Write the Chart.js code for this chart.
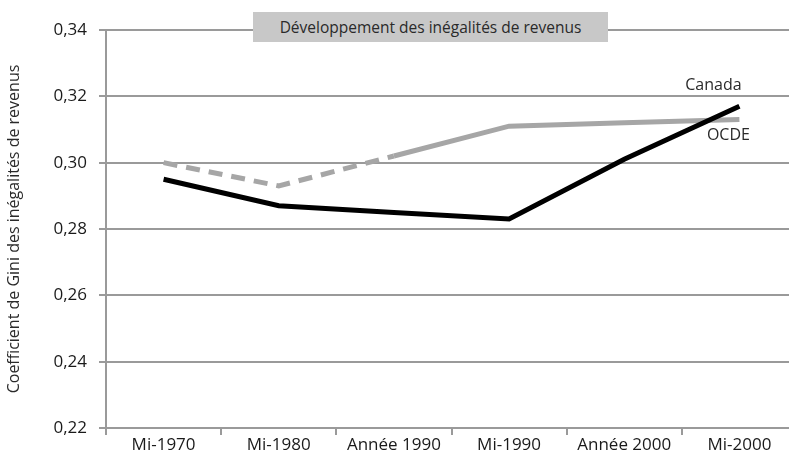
<!DOCTYPE html>
<html>
<head>
<meta charset="utf-8">
<script src="https://cdn.jsdelivr.net/npm/chart.js@4"></script>
<style>
  html, body { margin: 0; padding: 0; background: #fff; overflow: hidden; }
  #wrap { position: relative; width: 797px; height: 463px; }
  #titre {
    position: absolute; left: 253px; top: 12px; width: 355px; height: 30px;
    background: #c8c8c8; color: #2a2a2a; font: 15.5px "Open Sans", sans-serif;
    line-height: 30px; text-align: center;
  }
</style>
</head>
<body>
<div id="wrap">
  <canvas id="grafico" width="797" height="463"></canvas>
  <div id="titre">Développement des inégalités de revenus</div>
</div>
<script>
  // Données
  const periodes = ['Mi-1970', 'Mi-1980', 'Année 1990', 'Mi-1990', 'Année 2000', 'Mi-2000'];
  const canada = [0.295, 0.287, 0.285, 0.283, 0.301, 0.317];
  const ocde = [0.300, 0.293, 0.302, 0.311, 0.312, 0.313];
  const yMin = 0.22, yMax = 0.34, yPas = 0.02;

  const police = '"Open Sans", sans-serif';
  const gris = '#9a9a9a';

  // Étiquettes des séries à la fin des lignes
  const etiquettes = {
    id: 'etiquettes',
    afterDatasetsDraw(chart) {
      const ctx = chart.ctx;
      ctx.save();
      ctx.font = '16px ' + police;
      ctx.fillStyle = '#2a2a2a';
      ctx.textAlign = 'center';
      ctx.textBaseline = 'middle';
      const pc = chart.getDatasetMeta(0).data[periodes.length - 1];
      ctx.fillText('Canada', pc.x - 26, pc.y - 21);
      const po = chart.getDatasetMeta(1).data[periodes.length - 1];
      ctx.fillText('OCDE', po.x - 11, po.y + 16);
      ctx.restore();
    }
  };

  let ctx = document.getElementById('grafico').getContext('2d');
  let grafico = new Chart(ctx, {
      type: 'line',
      data: {
          labels: periodes,
          datasets: [{
              label: 'Canada',
              data: canada,
              borderColor: '#000',
              borderWidth: 5,
              pointRadius: 0,
              tension: 0
          }, {
              label: 'OCDE',
              data: ocde,
              borderColor: '#a6a6a6',
              borderWidth: 5,
              pointRadius: 0,
              tension: 0,
              segment: {
                  borderDash: c => c.p1DataIndex <= 2 ? [14, 9] : undefined
              }
          }]
      },
      options: {
          responsive: false,
          animation: false,
          layout: { padding: { top: 30, left: 0, right: 0, bottom: 0 } },
          plugins: { legend: { display: false }, tooltip: { enabled: false } },
          scales: {
              x: {
                  offset: true,
                  afterFit: s => { s.height = 35; },
                  grid: { offset: true, drawOnChartArea: false, color: gris, lineWidth: 2, tickLength: 7 },
                  border: { color: gris, width: 2 },
                  ticks: { color: '#1a1a1a', font: { family: police, size: 17 }, padding: 0, maxRotation: 0 }
              },
              y: {
                  min: yMin,
                  max: yMax,
                  afterFit: s => { s.width = 106; },
                  grid: { color: gris, lineWidth: 2, tickLength: 7 },
                  border: { color: gris, width: 2 },
                  ticks: {
                      stepSize: yPas,
                      color: '#1a1a1a',
                      padding: 12,
                      font: { family: police, size: 17 },
                      callback: v => v.toFixed(2).replace('.', ',')
                  },
                  title: {
                      display: true,
                      text: 'Coefficient de Gini des inégalités de revenus',
                      color: '#2a2a2a',
                      font: { family: police, size: 16 },
                      padding: { top: 5, bottom: 0 }
                  }
              }
          }
      },
      plugins: [etiquettes]
  });
</script>
</body>
</html>
